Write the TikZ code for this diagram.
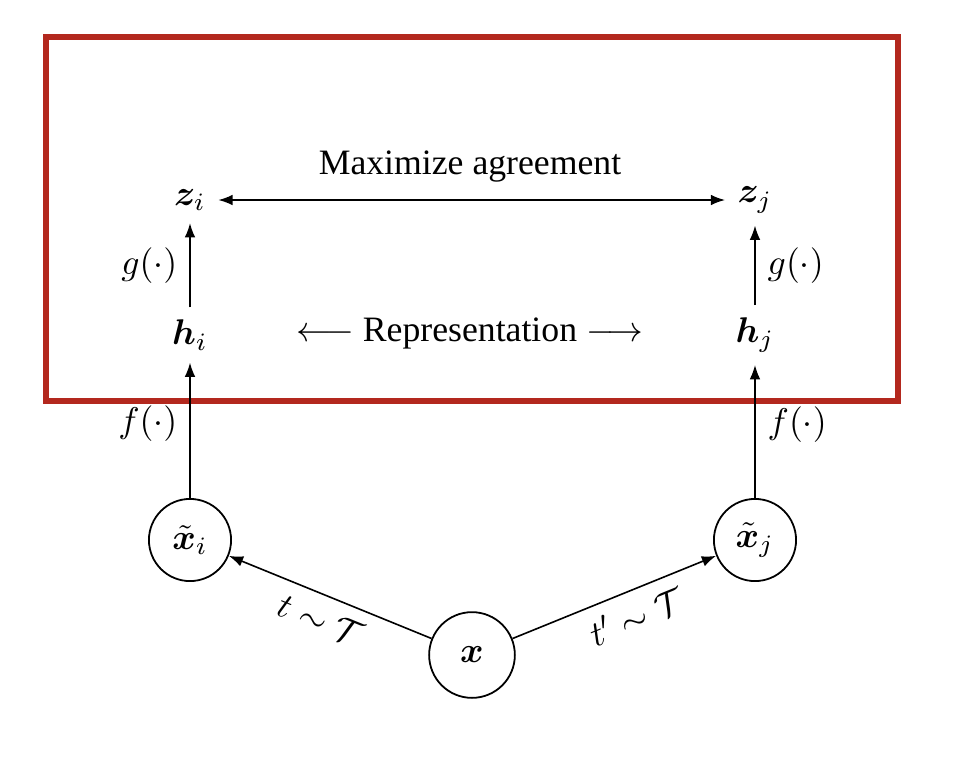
\documentclass[tikz,border=0pt]{standalone}
\usepackage{amsmath,bm}
\usepackage{fontspec}
\setmainfont{Liberation Serif}
\usetikzlibrary{arrows.meta}
\definecolor{boxred}{RGB}{179,40,30}
\begin{document}
\begin{tikzpicture}[x=0.28pt,y=-0.28pt,
  lbl/.style={inner sep=3.3pt},
  circ/.style={circle,draw,line width=0.5pt,minimum size=23pt,inner sep=0pt},
  arr/.style={-{Latex[length=4pt,width=3pt]},line width=0.45pt},
  darr/.style={{Latex[length=4pt,width=3pt]}-{Latex[length=4pt,width=3pt]},line width=0.45pt}]
\useasboundingbox (0,0) rectangle (968,776);
\draw[boxred,line width=1.7pt] (46,37) rectangle (898,401);
\node[lbl] (zi) at (190,200) {$\bm{z}_i$};
\node[lbl] (zj) at (755,200) {$\bm{z}_j$};
\node[lbl] (hi) at (190,335) {$\bm{h}_i$};
\node[lbl] (hj) at (755,335) {$\bm{h}_j$};
\node[circ] (xi) at (190,540) {$\tilde{\bm{x}}_i$};
\node[circ] (xj) at (755,540) {$\tilde{\bm{x}}_j$};
\node[circ,minimum size=24pt] (x) at (472,655) {$\bm{x}$};
\node (max) at (470,167) {Maximize agreement};
\node (rep) at (470,333) {$\longleftarrow$ Representation $\longrightarrow$};
\draw[darr] (zi) -- (zj);
\draw[arr] (hi) -- node[left] {$g(\cdot)$} (zi);
\draw[arr] (hj) -- node[right] {$g(\cdot)$} (zj);
\draw[arr] (xi) -- node[left,pos=0.55] {$f(\cdot)$} (hi);
\draw[arr] (xj) -- node[right,pos=0.55] {$f(\cdot)$} (hj);
\draw[arr] (x) -- node[midway,sloped,below] {$t\sim\mathcal{T}$} (xi);
\draw[arr] (x) -- node[pos=0.56,sloped,below] {$t'\sim\mathcal{T}$} (xj);
\end{tikzpicture}
\end{document}
